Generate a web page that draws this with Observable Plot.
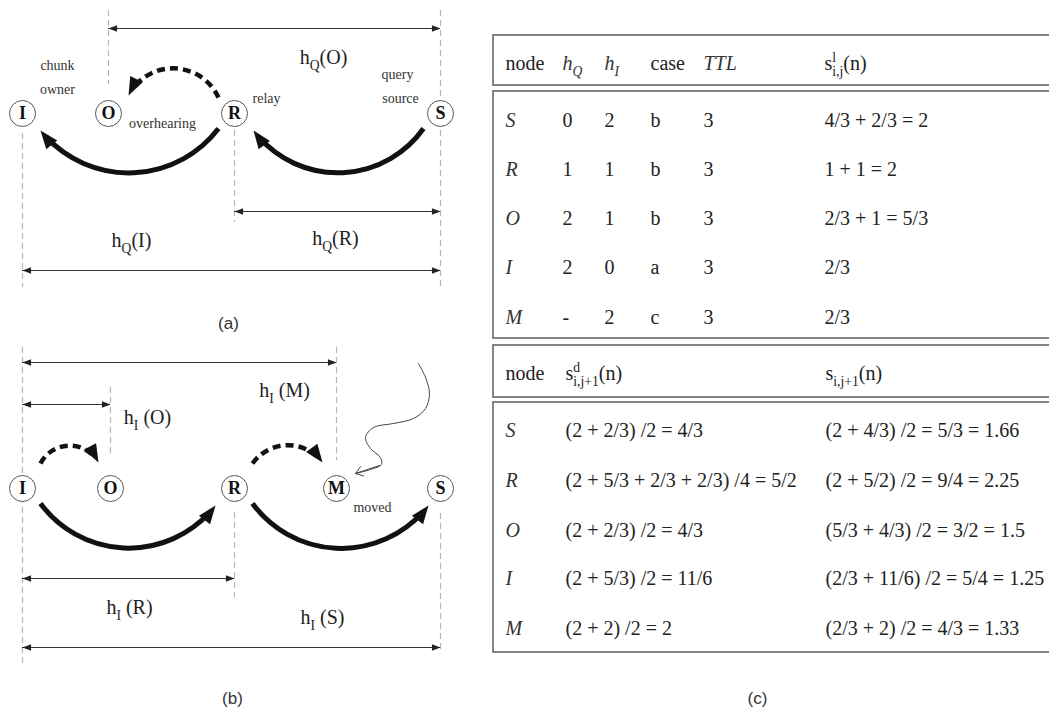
<!DOCTYPE html>
<html><head><meta charset="utf-8">
<script src="https://cdn.jsdelivr.net/npm/d3@7"></script>
<script src="https://cdn.jsdelivr.net/npm/@observablehq/plot@0.6"></script>
<style>body{margin:0;background:#fff}</style>
</head><body><div id="chart"></div>
<script>
// ---------------- data ----------------
const nodeNames = ["S", "R", "O", "I", "M"];
const hQValues = ["0", "1", "2", "2", "-"];
const hIValues = ["2", "1", "1", "0", "2"];
const caseValues = ["b", "b", "b", "a", "c"];
const ttlValues = ["3", "3", "3", "3", "3"];
const slValues = ["4/3 + 2/3 = 2", "1 + 1 = 2", "2/3 + 1 = 5/3", "2/3", "2/3"];
const sdValues = ["(2 + 2/3) /2 = 4/3", "(2 + 5/3 + 2/3 + 2/3) /4 = 5/2", "(2 + 2/3) /2 = 4/3", "(2 + 5/3) /2 = 11/6", "(2 + 2) /2 = 2"];
const sNextValues = ["(2 + 4/3) /2 = 5/3 = 1.66", "(2 + 5/2) /2 = 9/4 = 2.25", "(5/3 + 4/3) /2 = 3/2 = 1.5", "(2/3 + 11/6) /2 = 5/4 = 1.25", "(2/3 + 2) /2 = 4/3 = 1.33"];
const header1 = ["node", "h_{Q}", "h_{I}", "case", "TTL", "s^{l}_{i,j}(n)"];
const header1Italic = [false, true, true, false, true, false];
const header2 = ["node", "s^{d}_{i,j+1}(n)", "s_{i,j+1}(n)"];
const panelLabels = ["(a)", "(b)", "(c)"];
const panelANodes = ["I", "O", "R", "S"];
const panelBNodes = ["I", "O", "R", "M", "S"];
const dimLabelsA = ["h_{Q}(O)", "h_{Q}(I)", "h_{Q}(R)"];
const dimLabelsB = ["h_{I} (M)", "h_{I} (O)", "h_{I} (R)", "h_{I} (S)"];
const noteLabels = ["chunk", "owner", "relay", "query", "source", "overhearing", "moved"];

// ---------------- layout (diagram coordinates) ----------------
const W = 1049, H = 713;
const SERIF = "Liberation Serif, Times New Roman, serif";
const SANS = "Liberation Sans, Arial, sans-serif";

const nodeXA = [22, 108, 234, 440], nodeYA = 113;
const nodeXB = [22, 110, 234, 336, 440], nodeYB = 488;
const nodes = [
  ...panelANodes.map((n, i) => ({n, x: nodeXA[i], y: nodeYA})),
  ...panelBNodes.map((n, i) => ({n, x: nodeXB[i], y: nodeYB}))
];

const guides = [
  {x: 22, y1: 133, y2: 287}, {x: 108, y1: 10, y2: 84}, {x: 234, y1: 130, y2: 222}, {x: 440, y1: 10, y2: 287},
  {x: 22, y1: 347, y2: 663}, {x: 110, y1: 387, y2: 457}, {x: 336, y1: 347, y2: 460},
  {x: 234, y1: 512, y2: 597}, {x: 440, y1: 513, y2: 653}
];

const dims = [
  {y: 28, x1: 108, x2: 440}, {y: 211, x1: 234, x2: 440}, {y: 270, x1: 22, x2: 440},
  {y: 362, x1: 22, x2: 336}, {y: 404, x1: 22, x2: 110}, {y: 578, x1: 22, x2: 234}, {y: 647, x1: 22, x2: 440}
];
const dimHeads = dims.flatMap(d => [{x: d.x1, y: d.y, rot: 180}, {x: d.x2, y: d.y, rot: 0}]);

const dimLabelPos = [[323, 57], [131, 240], [335, 238], [284, 390], [147, 417], [129, 607], [322, 617]];
const dimLabels = [...dimLabelsA, ...dimLabelsB].map((t, i) => ({t, x: dimLabelPos[i][0], y: dimLabelPos[i][1]}));

const notePos = [[57, 65], [57, 89], [266, 98], [397, 74], [400, 98], [162, 123], [372, 507]];
const notes = noteLabels.map((t, i) => ({t, x: notePos[i][0], y: notePos[i][1]}));

const arcs = [
  {x1: 218, y1: 128, x2: 40, y2: 130, sag: 1, bend: 52, dash: false},
  {x1: 423, y1: 128, x2: 253, y2: 130, sag: 1, bend: 54, dash: false},
  {x1: 218, y1: 97, x2: 128, y2: 95, sag: -1, bend: 64, dash: true},
  {x1: 40, y1: 463, x2: 98, y2: 462, sag: -1, bend: 62, dash: true},
  {x1: 252, y1: 463, x2: 322, y2: 462, sag: -1, bend: 54, dash: true},
  {x1: 40, y1: 503, x2: 215, y2: 505, sag: 1, bend: 53, dash: false},
  {x1: 252, y1: 503, x2: 428, y2: 505, sag: 1, bend: 53, dash: false}
];
for (const a of arcs) {
  const L = Math.hypot(a.x2 - a.x1, a.y2 - a.y1);
  const ux = (a.x2 - a.x1) / L, uy = (a.y2 - a.y1) / L;
  const nx = 0, ny = a.sag;                 // side the arc bulges to
  const px = -uy, py = ux;
  a.signed = (px * nx + py * ny) > 0 ? -a.bend : a.bend;
  const th = a.bend * Math.PI / 180;
  const tx = ux * Math.cos(th) - nx * Math.sin(th);
  const ty = uy * Math.cos(th) - ny * Math.sin(th);
  a.rot = Math.atan2(ty, tx) * 180 / Math.PI;
}
const arcHeads = arcs.map(a => ({x: a.x2, y: a.y2, rot: a.rot}));

const squiggle = [
  [418, 363], [425, 377], [429, 393], [425, 408], [413, 418], [393, 423], [373, 427],
  [365, 437], [370, 448], [380, 457], [381, 464], [370, 469], [355, 473]
].map(([x, y]) => ({x, y}));
const squiggleTip = [{x1: 379, y1: 465, x2: 355, y2: 473}];

// table
const tx1 = 493, tx2 = 1065;
const boxes = [
  {y1: 35, y2: 85}, {y1: 91, y2: 338}, {y1: 345, y2: 397}, {y1: 402, y2: 652}
].map(b => ({...b, x1: tx1, x2: tx2}));
const col1X = [505, 562, 604, 650, 703, 824];
const head1Y = 63, rows1Y = [120, 169, 218, 267, 317];
const col2X = [505, 565, 825];
const head2Y = 373, rows2Y = [430, 480, 530, 578, 628];

const cells = [];
header1.forEach((t, j) => cells.push({t, x: col1X[j], y: head1Y, it: header1Italic[j]}));
nodeNames.forEach((n, i) => {
  const vals = [n, hQValues[i], hIValues[i], caseValues[i], ttlValues[i], slValues[i]];
  vals.forEach((t, j) => cells.push({t, x: col1X[j], y: rows1Y[i], it: j === 0}));
});
header2.forEach((t, j) => cells.push({t, x: col2X[j], y: head2Y, it: false}));
nodeNames.forEach((n, i) => {
  [n, sdValues[i], sNextValues[i]].forEach((t, j) => cells.push({t, x: col2X[j], y: rows2Y[i], it: j === 0}));
});

const panelPos = [[228, 323], [232, 698], [757, 698]];
const panels = panelLabels.map((t, i) => ({t, x: panelPos[i][0], y: panelPos[i][1]}));

// filled arrowhead symbol with its tip at the origin, pointing to +x
const headSymbol = {
  draw(ctx, size) {
    const r = Math.sqrt(size / Math.PI);
    const l = r * 2.6, w = r;
    ctx.moveTo(0, 0); ctx.lineTo(-l, -w); ctx.lineTo(-l, w); ctx.closePath();
  }
};

const arcMarks = arcs.map(a => Plot.arrow([a], {
  x1: "x1", y1: "y1", x2: "x2", y2: "y2", bend: a.signed,
  stroke: "#111", strokeWidth: a.dash ? 4.5 : 5, headLength: 0, insetEnd: 8,
  strokeDasharray: a.dash ? "8,5" : null, strokeLinecap: "butt"
}));

const chart = Plot.plot({
  width: W, height: H, margin: 0,
  x: {domain: [0, W], range: [0, W], axis: null},
  y: {domain: [0, H], range: [0, H], axis: null},
  style: {background: "white"},
  marks: [
    Plot.rect(boxes, {x1: "x1", x2: "x2", y1: "y1", y2: "y2", fill: "none", stroke: "#666", strokeWidth: 1.6}),
    Plot.ruleX(guides, {x: "x", y1: "y1", y2: "y2", stroke: "#b5b5b5", strokeWidth: 1.2, strokeDasharray: "6,4"}),
    Plot.ruleY(dims, {y: "y", x1: "x1", x2: "x2", stroke: "#333", strokeWidth: 1.2}),
    Plot.dot(dimHeads, {x: "x", y: "y", rotate: "rot", symbol: headSymbol, r: 3.3, fill: "#222", stroke: "none"}),
    ...arcMarks,
    Plot.dot(arcHeads, {x: "x", y: "y", rotate: "rot", symbol: headSymbol, r: 7, fill: "#111", stroke: "none"}),
    Plot.line(squiggle, {x: "x", y: "y", curve: "catmull-rom", stroke: "#444", strokeWidth: 1}),
    Plot.arrow(squiggleTip, {x1: "x1", y1: "y1", x2: "x2", y2: "y2", stroke: "#444", strokeWidth: 1, headLength: 14, headAngle: 70}),
    Plot.dot(nodes, {x: "x", y: "y", r: 13, fill: "white", stroke: "#555", strokeWidth: 1}),
    Plot.text(nodes, {x: "x", y: "y", text: "n", fontFamily: SERIF, fontWeight: "bold", fontSize: 18, fill: "#111"}),
    Plot.text(dimLabels, {x: "x", y: "y", text: "t", fontFamily: SERIF, fontSize: 20, fill: "#222"}),
    Plot.text(notes, {x: "x", y: "y", text: "t", fontFamily: SERIF, fontSize: 14, fill: "#333"}),
    Plot.text(cells.filter(c => !c.it), {x: "x", y: "y", text: "t", textAnchor: "start", fontFamily: SERIF, fontSize: 20, fill: "#222"}),
    Plot.text(cells.filter(c => c.it), {x: "x", y: "y", text: "t", textAnchor: "start", fontFamily: SERIF, fontStyle: "italic", fontSize: 20, fill: "#333"}),
    Plot.text(panels, {x: "x", y: "y", text: "t", fontFamily: SANS, fontSize: 17, fill: "#333"})
  ]
});
document.getElementById("chart").append(chart);

// sub/superscript markup -> tspans
function richify(svg) {
  for (const t of svg.querySelectorAll("text")) {
    const s = t.textContent;
    if (!/[_^]\{/.test(s)) continue;
    const fs = parseFloat(getComputedStyle(t).fontSize) || 16;
    const parts = [...s.matchAll(/([_^])\{([^}]*)\}|[^_^]+/g)];
    while (t.firstChild) t.removeChild(t.firstChild);
    let shift = 0, prev = null;
    for (const m of parts) {
      const ts = document.createElementNS("http://www.w3.org/2000/svg", "tspan");
      let target = 0;
      if (m[1] === "_") { target = 0.3 * fs; ts.setAttribute("font-size", 0.68 * fs); ts.textContent = m[2]; }
      else if (m[1] === "^") { target = -0.4 * fs; ts.setAttribute("font-size", 0.68 * fs); ts.textContent = m[2]; }
      else ts.textContent = m[0];
      ts.setAttribute("dy", target - shift);
      shift = target;
      t.appendChild(ts);
      if (m[1] === "_" && prev && prev.kind === "^") ts.setAttribute("dx", -prev.el.getComputedTextLength());
      prev = {kind: m[1] || "", el: ts};
    }
  }
}
richify(chart);
</script>
</body></html>
